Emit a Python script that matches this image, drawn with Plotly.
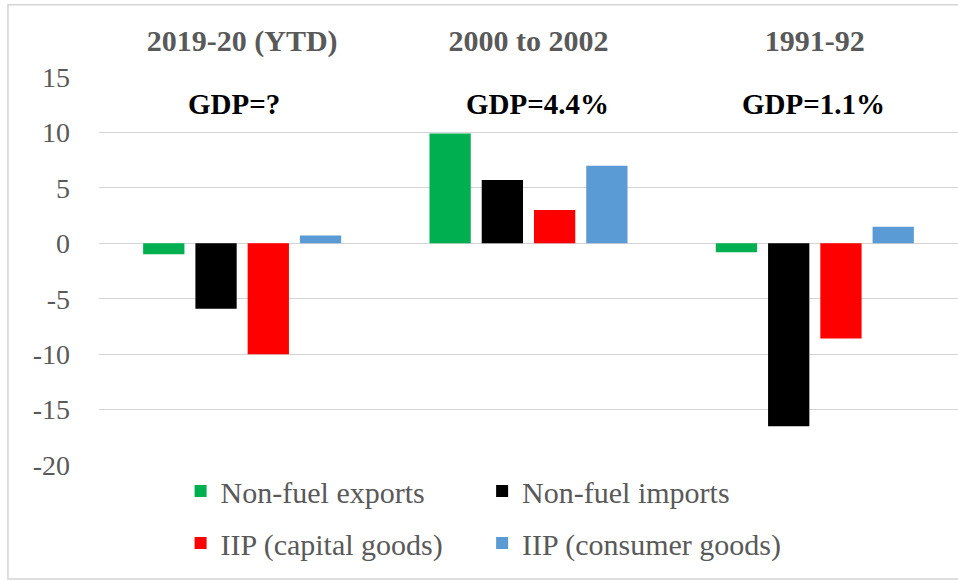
import plotly.graph_objects as go

categories = ["2019-20 (YTD)", "2000 to 2002", "1991-92"]
series_names = ["Non-fuel exports", "Non-fuel imports", "IIP (capital goods)", "IIP (consumer goods)"]
non_fuel_exports = [-1.0, 9.9, -0.8]
non_fuel_imports = [-5.9, 5.7, -16.5]
iip_capital = [-10.0, 3.0, -8.6]
iip_consumer = [0.7, 7.0, 1.5]
gdp_labels = ["GDP=?", "GDP=4.4%", "GDP=1.1%"]
ytick_vals = [-20, -15, -10, -5, 0, 5, 10, 15]
ytick_labels = ["-20", "-15", "-10", "-5", "0", "5", "10", "15"]

colors = ["#00B050", "#000000", "#FF0000", "#5B9BD5"]
serif = "Liberation Serif"
grey = "#595959"
gridgrey = "#d4d4d4"

fig = go.Figure()
# two legends so the two legend rows can be spaced like the original
for i, (name, vals, col) in enumerate(zip(series_names,
                                          [non_fuel_exports, non_fuel_imports, iip_capital, iip_consumer],
                                          colors)):
    fig.add_trace(go.Bar(x=categories, y=vals, name=name, marker_color=col,
                         marker_line_width=0,
                         legend="legend" if i < 2 else "legend2"))

# GDP labels above each group
for cat, txt, shift in zip(categories, gdp_labels, [-8, 9, -1]):
    fig.add_annotation(x=cat, y=12.6, text=txt, showarrow=False, xshift=shift,
                       font=dict(family=serif, size=29, color="black", weight="bold"))

# outer chart border
fig.add_shape(type="rect", xref="paper", yref="paper",
              x0=-0.106, x1=1.2, y0=-0.294, y1=1.186,
              line=dict(color=gridgrey, width=1.5))

leg = dict(orientation="h", x=0.095, xanchor="left", yanchor="middle",
           entrywidth=0.351, entrywidthmode="fraction",
           font=dict(family=serif, size=30, color=grey),
           bgcolor="rgba(0,0,0,0)")

fig.update_layout(
    width=958, height=581,
    margin=dict(l=99, r=0, t=77, b=116),
    plot_bgcolor="white", paper_bgcolor="white",
    barmode="group", bargap=0.27, bargroupgap=0.21,
    font=dict(family=serif, color=grey),
    legend=dict(leg, y=-0.067),
    legend2=dict(leg, y=-0.201),
)
fig.update_xaxes(side="top", showgrid=False, showline=False, ticks="",
                 automargin=False, ticklabelstandoff=19,
                 tickfont=dict(family=serif, size=30, color=grey, weight="bold"))
fig.update_yaxes(range=[-20, 15], tickvals=ytick_vals, ticktext=ytick_labels,
                 showgrid=True, gridcolor=gridgrey, gridwidth=1,
                 zeroline=True, zerolinecolor=gridgrey, zerolinewidth=1,
                 showline=False, automargin=False, ticklabelstandoff=28,
                 tickfont=dict(family=serif, size=28, color=grey))

fig.write_html("out.html", config={"displayModeBar": False},
               post_script="document.body.style.margin='0';")
